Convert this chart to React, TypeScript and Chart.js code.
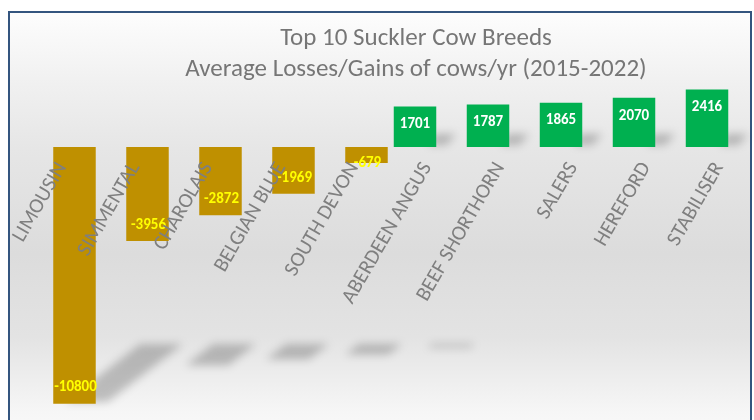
import React, { useEffect, useRef } from 'react';
import { Chart, registerables } from 'chart.js';

Chart.register(...registerables);

const breeds = [
  'LIMOUSIN', 'SIMMENTAL', 'CHAROLAIS', 'BELGIAN BLUE', 'SOUTH DEVON',
  'ABERDEEN ANGUS', 'BEEF SHORTHORN', 'SALERS', 'HEREFORD', 'STABILISER',
];
const gains = [null, null, null, null, null, 1701, 1787, 1865, 2070, 2416];
const losses = [-10800, -3956, -2872, -1969, -679, null, null, null, null, null];
const titleLines = ['Top 10 Suckler Cow Breeds', 'Average Losses/Gains of cows/yr (2015-2022)'];
const yMin = -11000;
const yMax = 2600;

const FONT = 'Carlito, Calibri, Lato, "Open Sans", sans-serif';

const titlePlugin = {
  id: 'customTitle',
  afterDraw(chart: any) {
    const ctx = chart.ctx;
    ctx.save();
    ctx.fillStyle = '#767676';
    ctx.font = `25px ${FONT}`;
    ctx.textAlign = 'center';
    ctx.textBaseline = 'alphabetic';
    titleLines.forEach((t, i) => ctx.fillText(t, 416, 45 + i * 31));
    ctx.restore();
  },
};

const shadowPlugin = {
  id: 'barShadows',
  beforeDatasetsDraw(chart: any) {
    const ctx = chart.ctx;
    const zero = chart.scales.y.getPixelForValue(0);
    ctx.save();
    ctx.filter = 'blur(4px)';
    chart.data.datasets.forEach((ds: any, di: number) => {
      const meta = chart.getDatasetMeta(di);
      meta.data.forEach((bar: any, i: number) => {
        const v = ds.data[i];
        if (v == null) return;
        const { x, y, width } = bar.getProps(['x', 'y', 'width'], true);
        const x0 = x - width / 2;
        const x1 = x + width / 2;
        ctx.beginPath();
        if (v > 0) {
          ctx.fillStyle = 'rgba(0,0,0,0.22)';
          ctx.moveTo(x1 - 8, zero - 2);
          ctx.lineTo(x1 + 10, zero - 2);
          ctx.lineTo(x1 + 20, zero - 13);
          ctx.lineTo(x1 - 2, zero - 13);
        } else {
          ctx.fillStyle = 'rgba(0,0,0,0.22)';
          const len = y - zero;
          const d = len * 0.225;
          const s = d * 1.3;
          const top = zero + 197;
          ctx.moveTo(x0 + 87, top);
          ctx.lineTo(x1 + 87, top);
          ctx.lineTo(x1 + 87 - s, top + d);
          ctx.lineTo(x0 + 87 - s, top + d);
        }
        ctx.closePath();
        ctx.fill();
      });
    });
    ctx.restore();
  },
};

const valueLabelPlugin = {
  id: 'valueLabels',
  afterDatasetsDraw(chart: any) {
    const ctx = chart.ctx;
    const zero = chart.scales.y.getPixelForValue(0);
    ctx.save();
    ctx.font = `bold 15px ${FONT}`;
    ctx.textAlign = 'center';
    ctx.textBaseline = 'middle';
    chart.data.datasets.forEach((ds: any, di: number) => {
      const meta = chart.getDatasetMeta(di);
      meta.data.forEach((bar: any, i: number) => {
        const v = ds.data[i];
        if (v == null) return;
        const { x, y } = bar.getProps(['x', 'y'], true);
        if (v > 0) {
          ctx.fillStyle = '#FFFFFF';
          ctx.fillText(String(v), x, y + 18);
        } else {
          ctx.fillStyle = '#FFFF00';
          ctx.fillText(String(v), x + 1, Math.max(y - 16, zero + 16));
        }
      });
    });
    ctx.restore();
  },
};

export default function App() {
  const ref = useRef<HTMLCanvasElement>(null);

  useEffect(() => {
    if (!ref.current) return;
    const chart = new Chart(ref.current, {
      type: 'bar',
      data: {
        labels: breeds,
        datasets: [
          { label: 'Gains', data: gains as any, backgroundColor: '#00B050', borderWidth: 0 },
          { label: 'Losses', data: losses as any, backgroundColor: '#BF9000', borderWidth: 0 },
        ],
      },
      options: {
        responsive: false,
        animation: false,
        events: [],
        layout: { padding: { left: 25.75, right: 4.25, top: 85.2, bottom: 11.6 } },
        datasets: { bar: { categoryPercentage: 0.671, barPercentage: 1.735 } } as any,
        plugins: {
          legend: { display: false },
          tooltip: { enabled: false },
          title: { display: false },
        },
        scales: {
          x: {
            position: { y: 0 } as any,
            offset: true,
            grid: { display: false, drawTicks: false },
            border: { display: false },
            ticks: {
              autoSkip: false,
              minRotation: 60,
              maxRotation: 60,
              padding: 11,
              color: '#7f7f7f',
              font: { family: FONT, size: 21 },
              z: 1,
            },
          },
          y: { display: false, min: yMin, max: yMax },
        },
      },
      plugins: [shadowPlugin, valueLabelPlugin, titlePlugin],
    });
    return () => chart.destroy();
  }, []);

  return (
    <div style={{ position: 'fixed', left: 0, top: 0, width: 754, height: 420, overflow: 'hidden', background: '#ffffff' }}>
      <div
        style={{
          position: 'absolute', left: 8, top: 11, width: 744, height: 440, boxSizing: 'border-box',
          borderTop: '2px solid #34557f', borderLeft: '2px solid #34557f', borderRight: '2px solid #34557f',
          background: 'linear-gradient(to bottom, #fdfdfd 0%, #f1f1f1 15%, #e6e6e6 31%, #dcdcdc 55%, #e3e3e3 74%, #f6f6f6 91%, #fbfbfb 100%)',
        }}
      />
      <canvas ref={ref} width={760} height={420} style={{ position: 'absolute', left: 0, top: 0 }} />
    </div>
  );
}
